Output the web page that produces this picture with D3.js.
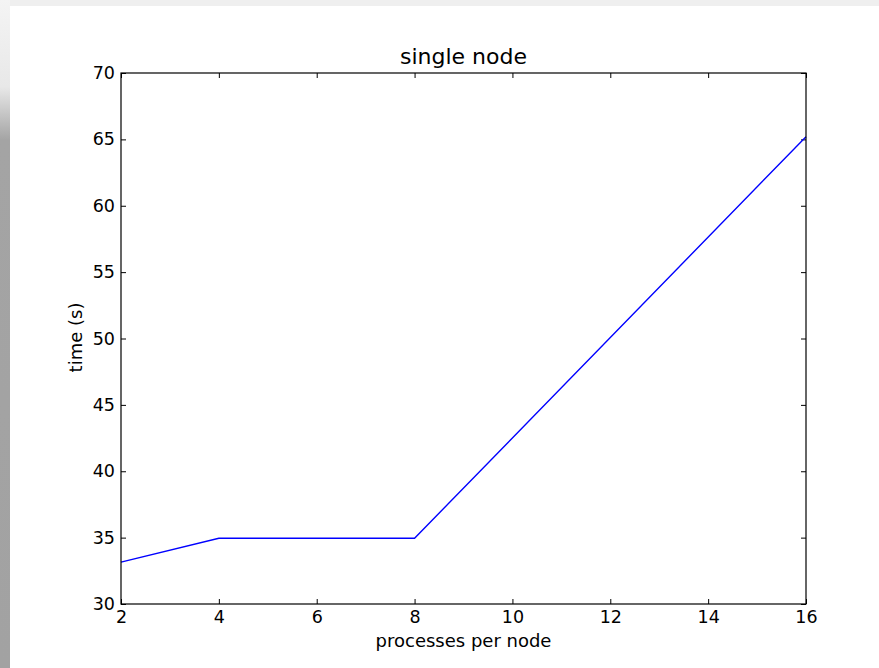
<!DOCTYPE html>
<html>
<head>
<meta charset="utf-8">
<script src="https://cdn.jsdelivr.net/npm/d3@7"></script>
<style>
  html, body { margin: 0; padding: 0; background: #ffffff; }
  svg { display: block; }
  text { font-family: "DejaVu Sans", sans-serif; fill: #000; }
</style>
</head>
<body>
<svg id="chart" width="879" height="668"></svg>
<script>
// Timing per process count on a single node
const processes = [2, 4, 8, 16];
const timeSeconds = [33.15, 34.95, 34.95, 65.2];
const xTicks = [2, 4, 6, 8, 10, 12, 14, 16];
const yTicks = [30, 35, 40, 45, 50, 55, 60, 65, 70];

const svg = d3.select("#chart");
const W = 879, H = 668;

// page frame: light strip on top, shaded edge on the left
const defs = svg.append("defs");
const grad = defs.append("linearGradient")
  .attr("id", "edgeShade").attr("x1", 0).attr("y1", 0).attr("x2", 0).attr("y2", 1);
grad.append("stop").attr("offset", 0).attr("stop-color", "#f4f4f4");
grad.append("stop").attr("offset", 0.13).attr("stop-color", "#e8e8e8");
grad.append("stop").attr("offset", 0.21).attr("stop-color", "#a4a4a4");
grad.append("stop").attr("offset", 1).attr("stop-color", "#a2a2a2");
svg.append("rect").attr("x", 0).attr("y", 0).attr("width", W).attr("height", 6).attr("fill", "#efefef");
svg.append("rect").attr("x", 0).attr("y", 0).attr("width", 10).attr("height", H).attr("fill", "url(#edgeShade)");
svg.append("rect").attr("x", 10).attr("y", 6).attr("width", W - 10).attr("height", H - 6).attr("fill", "#ffffff");

const m = { left: 121, right: 806, top: 73, bottom: 604 };
const x = d3.scaleLinear().domain([2, 16]).range([m.left, m.right]);
const y = d3.scaleLinear().domain([30, 70]).range([m.bottom, m.top]);

const g = svg.append("g");

// axes with inward ticks on all four sides
const tickLen = 5;
const tickFont = 17.5;
function styleAxis(sel) {
  sel.select(".domain").remove();
  sel.selectAll(".tick line").attr("stroke", "#000").attr("stroke-width", 1);
  sel.selectAll(".tick text").attr("font-size", tickFont).attr("font-family", "DejaVu Sans, sans-serif").attr("fill", "#222");
}
g.append("g").attr("transform", `translate(0,${m.bottom})`)
  .call(d3.axisBottom(x).tickValues(xTicks).tickSize(-tickLen).tickPadding(tickLen + 2).tickFormat(d3.format("d")))
  .call(styleAxis);
g.append("g").attr("transform", `translate(0,${m.top})`)
  .call(d3.axisTop(x).tickValues(xTicks).tickSize(-tickLen).tickFormat(""))
  .call(styleAxis);
g.append("g").attr("transform", `translate(${m.left},0)`)
  .call(d3.axisLeft(y).tickValues(yTicks).tickSize(-tickLen).tickPadding(tickLen + 1).tickFormat(d3.format("d")))
  .call(styleAxis);
g.append("g").attr("transform", `translate(${m.right},0)`)
  .call(d3.axisRight(y).tickValues(yTicks).tickSize(-tickLen).tickFormat(""))
  .call(styleAxis);

// data line
const line = d3.line().x((d, i) => x(processes[i])).y(d => y(d));
g.append("path").datum(timeSeconds)
  .attr("d", line).attr("fill", "none")
  .attr("stroke", "#0000ff").attr("stroke-width", 1.4);

// plot frame
g.append("rect").attr("x", m.left).attr("y", m.top)
  .attr("width", m.right - m.left).attr("height", m.bottom - m.top)
  .attr("fill", "none").attr("stroke", "#000").attr("stroke-width", 1.2);

// labels
svg.append("text").attr("x", (m.left + m.right) / 2).attr("y", 64)
  .attr("text-anchor", "middle").attr("font-size", 22).attr("fill", "#222").text("single node");
svg.append("text").attr("x", (m.left + m.right) / 2).attr("y", 647)
  .attr("text-anchor", "middle").attr("font-size", 18).attr("fill", "#222").text("processes per node");
svg.append("text").attr("transform", `translate(82,${(m.top + m.bottom) / 2 - 1}) rotate(-90)`)
  .attr("text-anchor", "middle").attr("font-size", 18).attr("fill", "#222").text("time (s)");
</script>
</body>
</html>
